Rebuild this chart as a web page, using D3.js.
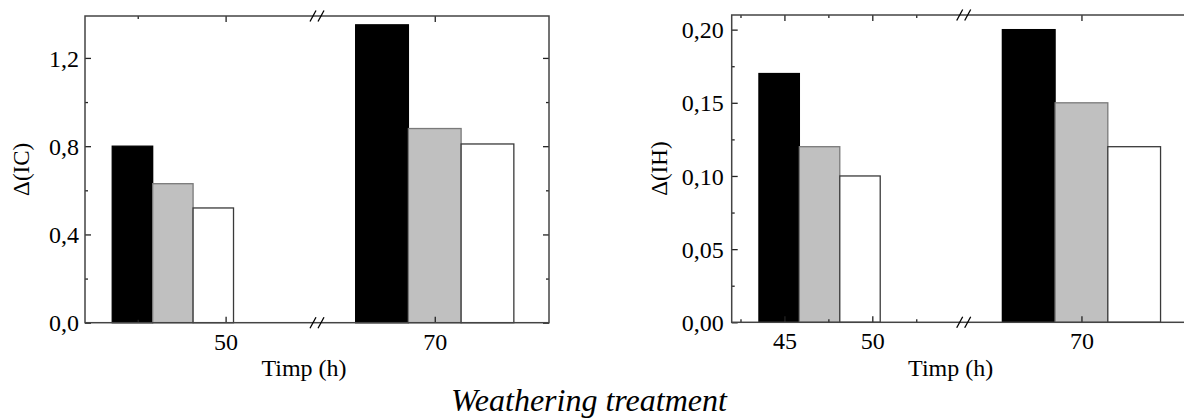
<!DOCTYPE html>
<html>
<head>
<meta charset="utf-8">
<script src="https://cdn.jsdelivr.net/npm/d3@7"></script>
<style>
    html, body { margin: 0; padding: 0; background: #fff; }
    svg { display: block; font-family: "Liberation Serif", "Times New Roman", serif; }
</style>
</head>
<body>
<svg id="chart" width="1184" height="419"></svg>
<script>
// group centres on the time axis (h), one group per exposure time
var groupHours = [47, 70];
var seriesFill = ['#000000', '#c0c0c0', '#ffffff'];

// Δ(IC), left panel
var icBlack = [0.80, 1.35];
var icGray = [0.63, 0.88];
var icWhite = [0.52, 0.81];

// Δ(IH), right panel
var ihBlack = [0.17, 0.20];
var ihGray = [0.12, 0.15];
var ihWhite = [0.10, 0.12];

var icTicks = [0, 0.4, 0.8, 1.2];
var icMinor = [0.2, 0.6, 1.0];
var ihTicks = [0, 0.05, 0.10, 0.15, 0.20];
var ihMinor = [0.025, 0.075, 0.125, 0.175];

var leftTimeTicks = [50, 70];
var leftTimeMinor = [45];
var rightTimeTicks = [45, 50, 70];
var rightTimeMinor = [42.5, 47.5, 52.5];

var locale = d3.formatLocale({decimal: ',', thousands: '.', grouping: [3], currency: ['', '']});

var svg = d3.select('#chart');

var barWidths = [2.3, 3]; // width of one bar in hours, per group

var drawPanel = function (opt) {
    var g = svg.append('g').attr('transform', 'translate(' + opt.left + ',' + opt.top + ')');
    var w = 464, h = opt.height, brk = 232;

    var x = d3.scaleLinear().domain([42, 55.2, 63.3, 76.5]).range([0, brk, brk, w]);
    var y = d3.scaleLinear().domain([0, opt.yMax]).range([h, 0]);

    // bars
    var rows = [];
    opt.series.forEach(function (vals, s) {
        vals.forEach(function (v, i) {
            var bw = barWidths[i];
            var start = groupHours[i] - 1.5 * bw + s * bw;
            rows.push({x0: start, x1: start + bw, v: v, s: s});
        });
    });
    g.selectAll('rect.bar').data(rows).enter().append('rect')
        .attr('class', 'bar')
        .attr('x', function (d) { return x(d.x0); })
        .attr('width', function (d) { return x(d.x1) - x(d.x0); })
        .attr('y', function (d) { return y(d.v); })
        .attr('height', function (d) { return h - y(d.v); })
        .style('fill', function (d) { return seriesFill[d.s]; })
        .style('stroke', function (d) { return ['#000', '#7a7a7a', '#3a3a3a'][d.s]; })
        .style('stroke-width', 1.3);

    var fmt = locale.format(opt.yFormat);

    var styleAxis = function (sel) {
        sel.attr('font-family', '"Liberation Serif", serif').attr('font-size', 24);
        sel.select('.domain').remove();
        sel.selectAll('line').style('stroke', '#222').style('stroke-width', 1.3);
        sel.selectAll('text').style('fill', '#000');
    };

    // y axes
    g.append('g').call(d3.axisLeft(y).tickValues(opt.yTicks).tickSize(-6).tickPadding(opt.yPad).tickFormat(fmt))
        .call(styleAxis)
        .selectAll('text').attr('dy', '0.34em');
    g.append('g').call(d3.axisLeft(y).tickValues(opt.yMinor).tickSize(-3).tickFormat(''))
        .call(styleAxis);
    g.append('g').attr('transform', 'translate(' + w + ',0)')
        .call(d3.axisRight(y).tickValues(opt.yTicks).tickSize(-6).tickFormat(''))
        .call(styleAxis);
    g.append('g').attr('transform', 'translate(' + w + ',0)')
        .call(d3.axisRight(y).tickValues(opt.yMinor).tickSize(-3).tickFormat(''))
        .call(styleAxis);

    // x axes
    g.append('g').attr('transform', 'translate(0,' + h + ')')
        .call(d3.axisBottom(x).tickValues(opt.xTicks).tickSize(-6).tickPadding(10).tickFormat(d3.format('d')))
        .call(styleAxis);
    g.append('g').attr('transform', 'translate(0,' + h + ')')
        .call(d3.axisBottom(x).tickValues(opt.xMinor).tickSize(-3).tickFormat(''))
        .call(styleAxis);
    g.append('g').call(d3.axisTop(x).tickValues(opt.xTicks).tickSize(-6).tickFormat(''))
        .call(styleAxis);
    g.append('g').call(d3.axisTop(x).tickValues(opt.xMinor).tickSize(-3).tickFormat(''))
        .call(styleAxis);

    // frame
    g.append('rect').attr('width', w).attr('height', h)
        .style('fill', 'none').style('stroke', '#444').style('stroke-width', 1.5);

    // axis break marks
    [0, h].forEach(function (yy) {
        [-4, 4].forEach(function (dx) {
            g.append('line')
                .attr('x1', brk + dx - 3).attr('y1', yy + 5.5)
                .attr('x2', brk + dx + 3).attr('y2', yy - 5.5)
                .style('stroke', '#000').style('stroke-width', 1.3);
        });
    });

    // titles
    g.append('text')
        .attr('transform', 'translate(' + opt.yTitleX + ',' + (h / 2) + ') rotate(-90)')
        .attr('text-anchor', 'middle')
        .style('font-size', '23px')
        .text(opt.yTitle);
    g.append('text')
        .attr('x', 219).attr('y', 376 - opt.top)
        .attr('text-anchor', 'middle')
        .style('font-size', '24px')
        .text('Timp (h)');
};

drawPanel({
    left: 85, top: 16, height: 306.7,
    yMax: 1.39, yTicks: icTicks, yMinor: icMinor, yFormat: '.1f', yPad: 6,
    xTicks: leftTimeTicks, xMinor: leftTimeMinor,
    series: [icBlack, icGray, icWhite],
    yTitle: 'Δ(IC)', yTitleX: -56
});

drawPanel({
    left: 731.7, top: 15, height: 307.3,
    yMax: 0.21, yTicks: ihTicks, yMinor: ihMinor, yFormat: '.2f', yPad: 8,
    xTicks: rightTimeTicks, xMinor: rightTimeMinor,
    series: [ihBlack, ihGray, ihWhite],
    yTitle: 'Δ(IH)', yTitleX: -65
});

svg.append('text')
    .attr('x', 589).attr('y', 411)
    .attr('text-anchor', 'middle')
    .style('font-size', '32px')
    .style('font-style', 'italic')
    .text('Weathering treatment');
</script>
</body>
</html>
